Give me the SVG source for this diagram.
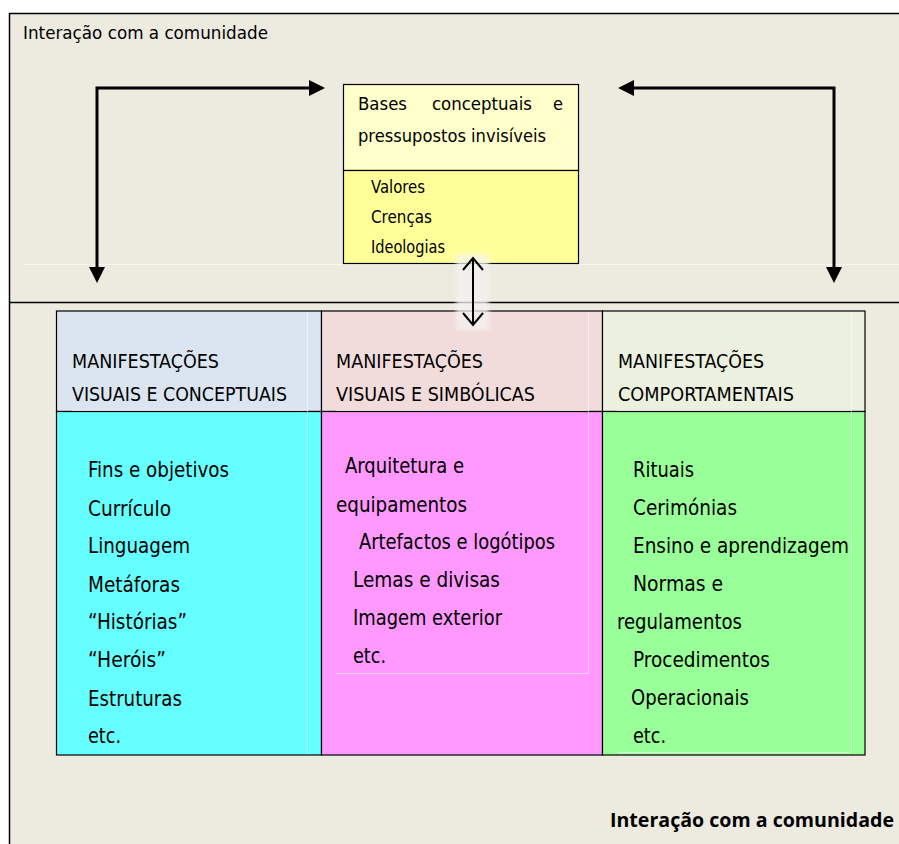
<svg xmlns="http://www.w3.org/2000/svg" width="899" height="844" viewBox="0 0 899 844">
<style>
  .t { font-family: "DejaVu Sans Condensed", "Liberation Sans Narrow", "Liberation Sans", Arial, sans-serif; font-stretch: condensed; fill: #000; }
  .body { font-size: 21px; }
  .hdr { font-size: 20px; }
  .box { font-size: 18px; }
  .sub { font-size: 17px; }
  .bold { font-family: "Open Sans", "Liberation Sans", Arial, sans-serif; font-weight: bold; font-size: 19px; fill: #000; }
  .edge { stroke: #000; stroke-width: 1.5; fill: none; }
  .cell { stroke: #000; stroke-width: 1.2; }
  .faint { stroke: #ffffff; stroke-width: 1; opacity: 0.55; fill: none; }
  .conn { stroke: #000; stroke-width: 3; fill: none; }
</style>
<defs>
  <marker id="tri" markerUnits="userSpaceOnUse" markerWidth="16" markerHeight="16" refX="0" refY="8" orient="auto-start-reverse" viewBox="0 0 16 16">
    <path d="M0,0 L16,8 L0,16 z" fill="#000"/>
  </marker>
  <marker id="vee" markerUnits="userSpaceOnUse" markerWidth="24" markerHeight="24" refX="14" refY="12" orient="auto-start-reverse" viewBox="0 0 24 24">
    <path d="M2,2 L14,12 L2,22" fill="none" stroke="#000" stroke-width="2"/>
  </marker>
  <filter id="soft" x="-30%" y="-20%" width="160%" height="140%">
    <feGaussianBlur stdDeviation="2"/>
  </filter>
</defs>

<!-- background -->
<rect x="0" y="0" width="899" height="844" fill="#ffffff"/>
<rect x="9" y="13" width="890" height="831" fill="#EDEAE0"/>
<line class="edge" x1="9" y1="13.5" x2="899" y2="13.5"/>
<line class="edge" x1="9.5" y1="13" x2="9.5" y2="844"/>
<line class="edge" x1="9" y1="302.5" x2="899" y2="302.5"/>
<line class="faint" x1="24" y1="264.5" x2="899" y2="264.5"/>

<g id="title-top">
  <text class="t" x="23" y="39" font-size="18.5" textLength="245" lengthAdjust="spacingAndGlyphs">Interação com a comunidade</text>
</g>

<g id="bases">
  <rect x="343.5" y="84.5" width="235" height="86" fill="#FFFFCC" class="cell"/>
  <rect x="343.5" y="170.5" width="235" height="93" fill="#FFFF99" class="cell"/>
  <text class="t box" y="110"><tspan x="358" textLength="49" lengthAdjust="spacingAndGlyphs">Bases</tspan><tspan x="432" textLength="100" lengthAdjust="spacingAndGlyphs">conceptuais</tspan><tspan x="553" textLength="10" lengthAdjust="spacingAndGlyphs">e</tspan></text>
  <text class="t box" x="358" y="142" textLength="188" lengthAdjust="spacingAndGlyphs">pressupostos invisíveis</text>
  <text class="t sub" x="371" y="193" textLength="54" lengthAdjust="spacingAndGlyphs">Valores</text>
  <text class="t sub" x="371" y="223" textLength="61" lengthAdjust="spacingAndGlyphs">Crenças</text>
  <text class="t sub" x="371" y="253" textLength="74" lengthAdjust="spacingAndGlyphs">Ideologias</text>
</g>

<g id="col1">
  <rect x="56.5" y="311" width="265" height="100.5" fill="#DBE5F1" class="cell"/>
  <rect x="56.5" y="411.5" width="265" height="343.5" fill="#66FFFF" class="cell"/>
  <line class="faint" x1="307.5" y1="312" x2="307.5" y2="754"/>
  <line class="faint" x1="72" y1="410.5" x2="307" y2="410.5"/>
  <text class="t hdr" x="72" y="368" textLength="147" lengthAdjust="spacingAndGlyphs">MANIFESTAÇÕES</text>
  <text class="t hdr" x="72" y="401" textLength="215" lengthAdjust="spacingAndGlyphs">VISUAIS E CONCEPTUAIS</text>
  <text class="t body" x="88" y="477" textLength="141" lengthAdjust="spacingAndGlyphs">Fins e objetivos</text>
  <text class="t body" x="88" y="516" textLength="83" lengthAdjust="spacingAndGlyphs">Currículo</text>
  <text class="t body" x="88" y="553" textLength="102" lengthAdjust="spacingAndGlyphs">Linguagem</text>
  <text class="t body" x="88" y="592" textLength="92" lengthAdjust="spacingAndGlyphs">Metáforas</text>
  <text class="t body" x="88" y="629" textLength="99" lengthAdjust="spacingAndGlyphs">“Histórias”</text>
  <text class="t body" x="88" y="667" textLength="78" lengthAdjust="spacingAndGlyphs">“Heróis”</text>
  <text class="t body" x="88" y="706" textLength="94" lengthAdjust="spacingAndGlyphs">Estruturas</text>
  <text class="t body" x="88" y="743" textLength="33" lengthAdjust="spacingAndGlyphs">etc.</text>
</g>

<g id="col2">
  <rect x="321.5" y="311" width="281" height="100.5" fill="#F2DCDB" class="cell"/>
  <rect x="321.5" y="411.5" width="281" height="343.5" fill="#FF99FF" class="cell"/>
  <line class="faint" x1="588.5" y1="312" x2="588.5" y2="673"/>
  <line class="faint" x1="336" y1="410.5" x2="588" y2="410.5"/>
  <line class="faint" x1="336" y1="673.5" x2="588" y2="673.5"/>
  <text class="t hdr" x="336" y="368" textLength="147" lengthAdjust="spacingAndGlyphs">MANIFESTAÇÕES</text>
  <text class="t hdr" x="336" y="401" textLength="199" lengthAdjust="spacingAndGlyphs">VISUAIS E SIMBÓLICAS</text>
  <text class="t body" x="345" y="473" textLength="119" lengthAdjust="spacingAndGlyphs">Arquitetura e</text>
  <text class="t body" x="336" y="512" textLength="131" lengthAdjust="spacingAndGlyphs">equipamentos</text>
  <text class="t body" x="359" y="549" textLength="196" lengthAdjust="spacingAndGlyphs">Artefactos e logótipos</text>
  <text class="t body" x="353" y="587" textLength="147" lengthAdjust="spacingAndGlyphs">Lemas e divisas</text>
  <text class="t body" x="353" y="625" textLength="149" lengthAdjust="spacingAndGlyphs">Imagem exterior</text>
  <text class="t body" x="353" y="663" textLength="33" lengthAdjust="spacingAndGlyphs">etc.</text>
</g>

<g id="col3">
  <rect x="602.5" y="311" width="262.5" height="100.5" fill="#EBF1DE" class="cell"/>
  <rect x="602.5" y="411.5" width="262.5" height="343.5" fill="#99FF99" class="cell"/>
  <line class="faint" x1="851.5" y1="312" x2="851.5" y2="752"/>
  <line class="faint" x1="617" y1="410.5" x2="851" y2="410.5"/>
  <line class="faint" x1="617" y1="752.5" x2="851" y2="752.5"/>
  <text class="t hdr" x="618" y="368" textLength="146" lengthAdjust="spacingAndGlyphs">MANIFESTAÇÕES</text>
  <text class="t hdr" x="618" y="401" textLength="176" lengthAdjust="spacingAndGlyphs">COMPORTAMENTAIS</text>
  <text class="t body" x="633" y="477" textLength="61" lengthAdjust="spacingAndGlyphs">Rituais</text>
  <text class="t body" x="633" y="515" textLength="104" lengthAdjust="spacingAndGlyphs">Cerimónias</text>
  <text class="t body" x="633" y="553" textLength="216" lengthAdjust="spacingAndGlyphs">Ensino e aprendizagem</text>
  <text class="t body" x="633" y="591" textLength="90" lengthAdjust="spacingAndGlyphs">Normas e</text>
  <text class="t body" x="617" y="629" textLength="125" lengthAdjust="spacingAndGlyphs">regulamentos</text>
  <text class="t body" x="633" y="667" textLength="137" lengthAdjust="spacingAndGlyphs">Procedimentos</text>
  <text class="t body" x="631" y="705" textLength="118" lengthAdjust="spacingAndGlyphs">Operacionais</text>
  <text class="t body" x="633" y="743" textLength="33" lengthAdjust="spacingAndGlyphs">etc.</text>
</g>

<g id="title-bottom">
  <text class="bold" x="610" y="827" textLength="284" lengthAdjust="spacingAndGlyphs">Interação com a comunidade</text>
</g>

<g id="connectors">
  <path class="conn" d="M97,267 L97,88 L309,88" marker-start="url(#tri)" marker-end="url(#tri)"/>
  <path class="conn" d="M834,267 L834,88 L634,88" marker-start="url(#tri)" marker-end="url(#tri)"/>
  <rect x="456" y="254" width="33" height="76" fill="#F4F3F0" opacity="0.75" filter="url(#soft)"/>
  <path d="M473,258 L473,325" stroke="#000" stroke-width="2" fill="none" marker-start="url(#vee)" marker-end="url(#vee)"/>
</g>
</svg>
